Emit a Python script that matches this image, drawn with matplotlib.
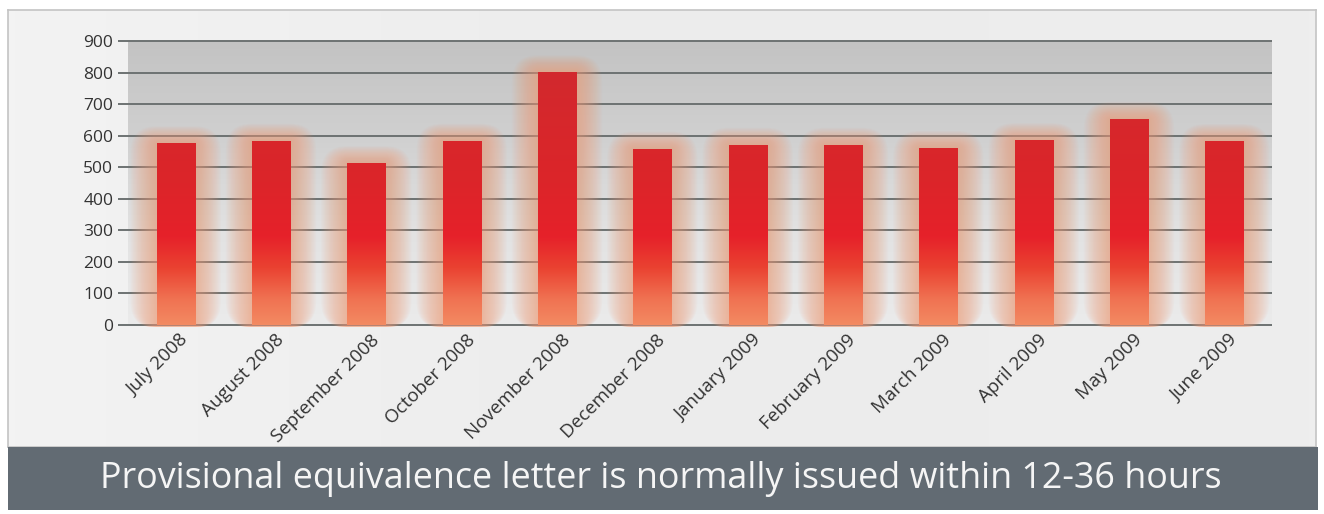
import numpy as np
import matplotlib
matplotlib.use("Agg")
import matplotlib.pyplot as plt
from matplotlib.patches import FancyBboxPatch
from matplotlib.colors import LinearSegmentedColormap
import matplotlib.transforms as mtransforms

# ---------------- data ----------------
months = ["July 2008", "August 2008", "September 2008", "October 2008",
          "November 2008", "December 2008", "January 2009", "February 2009",
          "March 2009", "April 2009", "May 2009", "June 2009"]
values = [576, 584, 513, 584, 801, 559, 571, 571, 561, 586, 653, 583]
y_ticks = [0, 100, 200, 300, 400, 500, 600, 700, 800, 900]
banner_text = "Provisional equivalence letter is normally issued within 12-36 hours"

FONT = ["Open Sans", "DejaVu Sans"]
plt.rcParams["font.family"] = FONT

W, H = 1324, 514
fig = plt.figure(figsize=(W / 100, H / 100), dpi=100)
fig.patch.set_facecolor("white")


def px(x0, y0, x1, y1):
    return [x0 / W, 1 - y1 / H, (x1 - x0) / W, (y1 - y0) / H]


# outer light panel
panel = fig.add_axes(px(8, 10, 1316, 447))
panel.set_xlim(0, 1)
panel.set_ylim(0, 1)
pg = np.linspace(0, 1, 200)[None, :]
panel.imshow(pg, extent=(0, 1, 0, 1), aspect="auto", origin="lower",
             cmap=LinearSegmentedColormap.from_list("p", ["#f3f3f3", "#ececec", "#eeeeee"]))
for s in panel.spines.values():
    s.set_color("#c4c4c4")
    s.set_linewidth(1.2)
panel.set_xticks([])
panel.set_yticks([])

# dark banner
ban = fig.add_axes(px(8, 447, 1318, 510))
ban.set_facecolor("#626b73")
ban.set_xlim(0, 1)
ban.set_ylim(0, 1)
for s in ban.spines.values():
    s.set_visible(False)
ban.set_xticks([])
ban.set_yticks([])

# main chart axes (2 px margin top/bottom so edge gridlines are not clipped)
ppu = 284 / 900.0  # pixels per y unit
m = 2 / ppu
ax = fig.add_axes(px(128, 41 - 2, 1272, 325 + 2))
n = len(months)
ax.set_xlim(-0.5, n - 0.5)
ax.set_ylim(-m, 900 + m)
ax.set_facecolor("none")
ax.set_zorder(2)
for s in ax.spines.values():
    s.set_visible(False)
pxu = 1144.0 / n  # pixels per x unit

# plot background gradient
bg_cmap = LinearSegmentedColormap.from_list(
    "bg", [(0, "#ebebeb"), (0.33, "#e2e2e2"), (0.66, "#d0d0d0"), (1, "#c3c3c3")])
ax.imshow(np.linspace(0, 1, 256)[:, None], extent=(-0.5, n - 0.5, 0, 900),
          aspect="auto", origin="lower", cmap=bg_cmap, zorder=0)

# gridlines + tick marks
grid_c = "#6d7272"
ax.set_yticks(y_ticks)
ax.set_yticklabels([str(t) for t in y_ticks])
ax.yaxis.grid(True, color=grid_c, linewidth=1.4)
ax.set_axisbelow(True)
ax.tick_params(axis="y", length=7.2, width=1.4, color=grid_c, pad=3.5,
               labelsize=12.5, labelcolor="#333333")

# soft glow around bars (drawn above gridlines)
bw = 0.40
aspect = pxu / ppu
for i, v in enumerate(values):
    for k in range(1, 21):
        ex = k * 1.3 / pxu
        ey = k * 0.85 / ppu
        r_px = 2 + k * 1.2
        gw = bw + 2 * ex
        p = FancyBboxPatch((i - gw / 2, -3 / ppu), gw, v + ey + 3 / ppu,
                           boxstyle=f"round,pad=0,rounding_size={r_px / pxu}",
                           mutation_aspect=aspect, facecolor="#f39a72",
                           edgecolor="none", alpha=0.045, zorder=2.6)
        ax.add_patch(p)

# bars with vertical gradient
bar_cmap = LinearSegmentedColormap.from_list(
    "bar", [(0, "#f38a62"), (0.09, "#f07252"), (0.2, "#ea4231"), (0.31, "#e6212a"),
            (0.5, "#dc2529"), (1, "#cf2a2f")])
bars = ax.bar(range(n), values, width=bw, color="none", edgecolor="none", zorder=3)
grad = np.linspace(0, 1, 256)[:, None]
for b in bars:
    im = ax.imshow(grad, extent=(-0.5, n - 0.5, 0, 900), aspect="auto",
                   origin="lower", cmap=bar_cmap, zorder=3)
    im.set_clip_path(b)

# x category labels (rotated, anchored just right of each bar centre)
ax.set_xticks(range(n))
ax.set_xticklabels([])
ax.tick_params(axis="x", length=0)
off = mtransforms.ScaledTranslation(4 / 100, -6 / 100, fig.dpi_scale_trans)
for i, lab in enumerate(months):
    ax.text(i, 0, lab, rotation=45, rotation_mode="anchor", ha="right", va="top",
            fontsize=13.5, color="#333333", transform=ax.transData + off,
            clip_on=False)

# banner text, fitted to width
t = fig.text(661 / W, 1 - 479 / H, banner_text, ha="center", va="center",
             color="#f5f5f5", fontsize=22, family=FONT)
fig.canvas.draw()
wpx = t.get_window_extent().width
t.set_fontsize(22 * 1120 / wpx)

fig.savefig("out.png", dpi=100, facecolor=fig.get_facecolor())
